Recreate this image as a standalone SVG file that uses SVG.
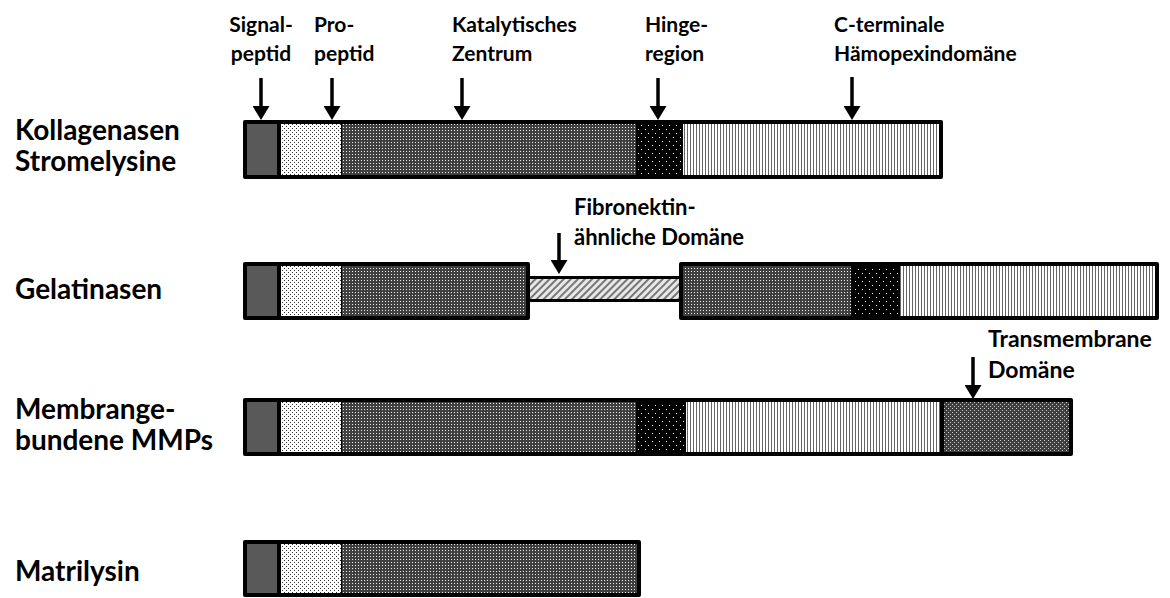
<svg xmlns="http://www.w3.org/2000/svg" width="1170" height="598" viewBox="0 0 1170 598">
<style>
  .t { font-family: Lato, "Open Sans", "Liberation Sans", sans-serif; font-weight: 700; font-size: 21px; fill: #000; }
  .r { font-size: 28px; }
  .f { font-size: 22px; }
  .m { font-size: 23px; }
  .frame { fill: #000; }
  .sig { fill: #595959; }
  .pro { fill: url(#pPro); }
  .cat { fill: url(#pCat); }
  .hin { fill: url(#pHinge); }
  .hem { fill: url(#pHemo); }
  .fib { fill: url(#pFib); }
  .tm { fill: url(#pTM); }
  .arr { stroke: #000; stroke-width: 3.5; fill: none; marker-end: url(#head); }
</style>
<defs>
  <pattern id="pPro" width="4" height="4" patternUnits="userSpaceOnUse">
    <rect width="4" height="4" fill="#fff"/>
    <rect x="0" y="0" width="1" height="1" fill="#333"/>
    <rect x="2" y="2" width="1" height="1" fill="#333"/>
  </pattern>
  <pattern id="pCat" width="3" height="3" patternUnits="userSpaceOnUse">
    <rect width="3" height="3" fill="#404040"/>
    <rect x="1" y="1" width="1" height="1" fill="#eee"/>
  </pattern>
  <pattern id="pHinge" width="7" height="8" patternUnits="userSpaceOnUse">
    <rect width="7" height="8" fill="#000"/>
    <rect x="1" y="1" width="1" height="1" fill="#fff"/>
    <rect x="4" y="5" width="1" height="1" fill="#fff"/>
  </pattern>
  <pattern id="pHemo" width="3" height="3" patternUnits="userSpaceOnUse">
    <rect width="3" height="3" fill="#fff"/>
    <rect x="0" y="0" width="1" height="3" fill="#666"/>
  </pattern>
  <pattern id="pFib" width="5" height="5" patternUnits="userSpaceOnUse" patternTransform="rotate(45)">
    <rect width="5" height="5" fill="#e8e8e8"/>
    <rect x="0" y="0" width="2" height="5" fill="#777"/>
  </pattern>
  <pattern id="pTM" width="4" height="4" patternUnits="userSpaceOnUse">
    <rect width="4" height="4" fill="#3e3e3e"/>
    <rect x="0" y="0" width="1" height="1" fill="#ccc"/>
    <rect x="2" y="2" width="1" height="1" fill="#ccc"/>
  </pattern>
  <marker id="head" markerUnits="userSpaceOnUse" markerWidth="14" markerHeight="17" viewBox="0 0 14 17" refX="0" refY="8.5" orient="auto">
    <path d="M0,0 L14,8.5 L0,17 Z" fill="#000"/>
  </marker>
</defs>

<g id="row-labels">
  <text class="t r" x="15" y="140">Kollagenasen</text>
  <text class="t r" x="15" y="171">Stromelysine</text>
  <text class="t r" x="15" y="299">Gelatinasen</text>
  <text class="t r" x="15" y="419">Membrange-</text>
  <text class="t r" x="15" y="450">bundene MMPs</text>
  <text class="t r" x="15" y="581">Matrilysin</text>
</g>

<g id="domain-labels">
  <text class="t" x="261" y="32" text-anchor="middle">Signal-</text>
  <text class="t" x="261" y="61" text-anchor="middle">peptid</text>
  <text class="t" x="314" y="32">Pro-</text>
  <text class="t" x="314" y="61">peptid</text>
  <text class="t" x="452" y="32">Katalytisches</text>
  <text class="t" x="452" y="61">Zentrum</text>
  <text class="t" x="645" y="32">Hinge-</text>
  <text class="t" x="645" y="61">region</text>
  <text class="t" x="834" y="32">C-terminale</text>
  <text class="t" x="834" y="61">Hämopexindomäne</text>
  <text class="t f" x="574" y="215">Fibronektin-</text>
  <text class="t f" x="574" y="245">ähnliche Domäne</text>
  <text class="t m" x="988" y="347">Transmembrane</text>
  <text class="t m" x="988" y="378">Domäne</text>
</g>

<g id="bar-kollagenasen">
  <rect class="frame" x="243" y="120" width="700" height="59" rx="2"/>
  <rect class="sig" x="247" y="124" width="30" height="51"/>
  <rect class="pro" x="281" y="124" width="60" height="51"/>
  <rect class="cat" x="342" y="124" width="294" height="51"/>
  <rect class="hin" x="637" y="124" width="45" height="51"/>
  <rect class="hem" x="683" y="124" width="256" height="51"/>
</g>

<g id="bar-gelatinasen">
  <rect class="frame" x="528" y="276" width="153" height="26"/>
  <rect class="fib" x="530" y="279" width="149" height="20"/>
  <rect class="frame" x="243" y="262" width="287" height="58" rx="2"/>
  <rect class="sig" x="247" y="266" width="30" height="50"/>
  <rect class="pro" x="281" y="266" width="60" height="50"/>
  <rect class="cat" x="342" y="266" width="184" height="50"/>
  <rect class="frame" x="679" y="262" width="480" height="58" rx="2"/>
  <rect class="cat" x="683" y="266" width="168" height="50"/>
  <rect class="hin" x="852" y="266" width="46" height="50"/>
  <rect class="hem" x="900" y="266" width="255" height="50"/>
</g>

<g id="bar-membran">
  <rect class="frame" x="243" y="398" width="830" height="58" rx="2"/>
  <rect class="sig" x="247" y="402" width="30" height="50"/>
  <rect class="pro" x="281" y="402" width="60" height="50"/>
  <rect class="cat" x="342" y="402" width="294" height="50"/>
  <rect class="hin" x="637" y="402" width="47" height="50"/>
  <rect class="hem" x="686" y="402" width="254" height="50"/>
  <rect class="tm" x="944" y="402" width="125" height="50"/>
</g>

<g id="bar-matrilysin">
  <rect class="frame" x="243" y="540" width="398" height="57" rx="2"/>
  <rect class="sig" x="247" y="544" width="30" height="49"/>
  <rect class="pro" x="281" y="544" width="60" height="49"/>
  <rect class="cat" x="342" y="544" width="295" height="49"/>
</g>

<g id="connectors">
  <line class="arr" x1="261" y1="78" x2="261" y2="106"/>
  <line class="arr" x1="332" y1="78" x2="332" y2="106"/>
  <line class="arr" x1="462" y1="78" x2="462" y2="106"/>
  <line class="arr" x1="658" y1="78" x2="658" y2="106"/>
  <line class="arr" x1="852" y1="77" x2="852" y2="106"/>
  <line class="arr" x1="559" y1="233" x2="559" y2="260"/>
  <line class="arr" x1="973" y1="357" x2="973" y2="385"/>
</g>
</svg>
